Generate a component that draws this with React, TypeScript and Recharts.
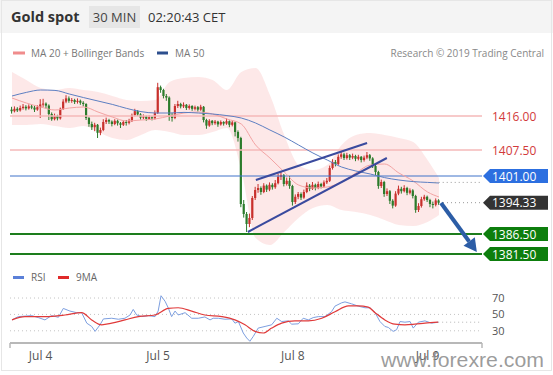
import React from 'react';
import { ComposedChart, Bar, Line, Area, XAxis, YAxis, ReferenceLine } from 'recharts';

// 30 min candles, index 0..149
const closes = [
  1417.2, 1417.8, 1417.4, 1418.0, 1418.3, 1417.9, 1418.4, 1418.1, 1417.6, 1418.2,
  1418.9, 1419.1, 1418.6, 1416.5, 1415.2, 1416.0, 1415.4, 1417.8, 1419.6, 1420.4,
  1419.8, 1420.0, 1419.5, 1419.8, 1419.3, 1419.0, 1415.5, 1414.0, 1413.2, 1413.8,
  1411.8, 1412.5, 1414.5, 1415.0, 1414.6, 1414.0, 1414.8, 1414.2, 1413.8, 1414.5,
  1414.3, 1414.8, 1416.2, 1417.2, 1416.4, 1415.6, 1415.9, 1415.3, 1415.7, 1415.4,
  1416.8, 1423.2, 1422.5, 1421.0, 1420.6, 1416.0, 1415.5, 1418.5, 1419.0, 1418.4,
  1418.8, 1418.0, 1418.5, 1417.8, 1418.2, 1417.6, 1418.3, 1415.0, 1413.6, 1414.8,
  1414.2, 1414.6, 1413.9, 1414.5, 1414.1, 1414.7, 1413.8, 1414.4, 1412.0, 1410.5,
  1394.0, 1391.5, 1389.0, 1390.5, 1395.5, 1397.5, 1398.0, 1397.0, 1398.6, 1397.6,
  1398.8, 1398.2, 1399.2, 1400.8, 1401.2, 1399.0, 1399.8, 1398.5, 1394.5, 1395.8,
  1396.5, 1395.6, 1397.0, 1398.6, 1397.8, 1398.8, 1398.0, 1399.0, 1398.4, 1399.4,
  1399.8, 1403.0, 1404.5, 1404.0, 1405.8, 1406.4, 1405.5, 1406.2, 1405.6, 1406.0,
  1405.3, 1405.8, 1405.0, 1405.6, 1406.2, 1405.4, 1403.5, 1402.0, 1398.5, 1399.5,
  1396.5, 1397.2, 1394.8, 1393.6, 1396.6, 1397.8, 1397.2, 1398.0, 1396.8, 1397.4,
  1396.0, 1392.5, 1393.5, 1395.2, 1395.8, 1395.0, 1394.0, 1393.8, 1394.9, 1394.33,
];
const highs = [
  1418.3, 1418.4, 1418.2, 1418.6, 1419.0, 1418.7, 1418.9, 1418.8, 1418.5, 1418.7,
  1420.2, 1420.3, 1419.4, 1418.9, 1416.9, 1416.6, 1416.3, 1418.1, 1420.2, 1421.2,
  1420.9, 1420.5, 1420.3, 1420.4, 1420.1, 1419.7, 1419.2, 1415.8, 1414.6, 1414.3,
  1414.0, 1413.1, 1415.2, 1415.6, 1415.3, 1414.9, 1415.2, 1415.1, 1414.5, 1414.9,
  1415.0, 1415.3, 1416.6, 1417.8, 1417.5, 1416.7, 1416.4, 1416.1, 1416.2, 1416.0,
  1417.4, 1424.3, 1423.6, 1422.8, 1421.5, 1420.9, 1416.8, 1419.0, 1419.8, 1419.3,
  1419.4, 1419.0, 1418.9, 1418.7, 1418.6, 1418.5, 1418.8, 1418.5, 1415.3, 1415.2,
  1415.0, 1415.0, 1414.8, 1414.9, 1414.7, 1415.4, 1414.9, 1414.8, 1414.6, 1412.4,
  1410.8, 1395.0, 1392.0, 1391.6, 1396.0, 1398.3, 1399.0, 1398.4, 1399.2, 1398.9,
  1399.4, 1399.2, 1400.0, 1401.6, 1402.2, 1401.5, 1400.6, 1401.0, 1398.8, 1396.4,
  1397.0, 1396.9, 1397.6, 1399.4, 1399.0, 1399.5, 1399.1, 1399.6, 1399.3, 1399.9,
  1400.5, 1403.6, 1405.2, 1405.0, 1406.4, 1407.2, 1406.8, 1406.8, 1406.5, 1406.6,
  1406.3, 1406.3, 1406.0, 1406.1, 1407.0, 1406.5, 1405.7, 1403.9, 1402.3, 1400.1,
  1399.8, 1397.9, 1397.5, 1395.2, 1397.2, 1398.6, 1398.3, 1398.7, 1398.3, 1397.9,
  1397.7, 1396.3, 1394.2, 1395.8, 1396.3, 1396.1, 1395.3, 1394.6, 1395.4, 1395.2,
];
const lows = [
  1416.6, 1416.9, 1417.0, 1417.1, 1417.6, 1417.4, 1417.6, 1417.7, 1417.0, 1417.3,
  1415.5, 1418.3, 1417.9, 1415.0, 1414.8, 1414.9, 1414.9, 1415.1, 1417.5, 1419.2,
  1419.3, 1419.3, 1419.0, 1419.1, 1418.8, 1418.4, 1415.0, 1413.3, 1412.5, 1412.2,
  1410.5, 1411.2, 1412.2, 1414.0, 1414.0, 1413.4, 1413.7, 1413.6, 1413.0, 1413.5,
  1413.6, 1413.9, 1414.5, 1415.9, 1416.0, 1415.1, 1415.2, 1414.8, 1415.0, 1414.9,
  1415.1, 1416.5, 1421.8, 1420.4, 1419.8, 1414.8, 1414.6, 1415.2, 1418.0, 1417.9,
  1418.0, 1417.5, 1417.6, 1417.3, 1417.4, 1417.1, 1417.3, 1414.4, 1412.8, 1413.3,
  1413.7, 1413.8, 1413.3, 1413.6, 1413.6, 1413.8, 1413.2, 1413.4, 1410.9, 1409.6,
  1393.2, 1390.6, 1387.0, 1388.2, 1390.0, 1395.0, 1396.8, 1396.3, 1396.7, 1397.0,
  1397.2, 1397.6, 1397.8, 1398.9, 1400.0, 1398.4, 1398.6, 1397.8, 1393.6, 1394.0,
  1395.2, 1395.0, 1395.3, 1396.7, 1397.2, 1397.5, 1397.4, 1397.7, 1397.9, 1398.1,
  1399.0, 1399.5, 1402.6, 1403.4, 1403.7, 1405.3, 1405.0, 1405.1, 1405.0, 1405.2,
  1404.7, 1404.9, 1404.4, 1404.6, 1405.2, 1404.8, 1403.0, 1401.2, 1397.8, 1398.0,
  1395.8, 1396.0, 1394.0, 1392.9, 1393.3, 1396.2, 1396.6, 1396.9, 1396.2, 1396.4,
  1395.4, 1391.8, 1392.0, 1393.1, 1394.8, 1394.5, 1393.2, 1392.9, 1393.4, 1393.8,
];
const firstOpen = 1417.6;

// indicator readings, every 5th candle
const bandIdx = [0, 5, 10, 15, 20, 25, 30, 35, 40, 45, 50, 55, 60, 65, 70, 75, 80, 85, 90, 95, 100, 105, 110, 115, 120, 125, 130, 135, 140, 145, 149];
const ma20 = [1420.5, 1419.25, 1418.25, 1417.5, 1418.0, 1418.25, 1417.0, 1415.75, 1414.75, 1415.0, 1415.25, 1416.0, 1416.75, 1417.0, 1416.5, 1415.25, 1414.0, 1408.75, 1405.5, 1402.0, 1398.75, 1398.0, 1398.25, 1399.5, 1401.75, 1403.75, 1404.0, 1401.75, 1399.75, 1397.0, 1395.75];
const bbUpper = [1427.0, 1425.0, 1423.0, 1422.5, 1423.0, 1422.5, 1422.0, 1421.0, 1420.0, 1419.75, 1420.0, 1424.5, 1425.5, 1425.75, 1425.0, 1422.5, 1427.0, 1428.0, 1421.25, 1411.25, 1403.75, 1402.5, 1403.75, 1408.75, 1411.25, 1411.75, 1411.25, 1410.5, 1409.5, 1405.0, 1400.5];
const bbLower = [1413.75, 1413.75, 1414.0, 1413.5, 1413.0, 1413.5, 1412.0, 1410.5, 1410.0, 1411.25, 1412.5, 1412.0, 1411.25, 1411.25, 1412.0, 1413.0, 1402.5, 1385.5, 1383.75, 1387.0, 1390.5, 1393.0, 1393.75, 1392.5, 1392.0, 1391.25, 1390.0, 1388.75, 1388.5, 1389.5, 1391.25];
const ma50 = [1421.0, 1421.9, 1422.5, 1422.4, 1421.5, 1420.6, 1419.75, 1418.9, 1417.9, 1417.1, 1416.75, 1416.75, 1416.9, 1416.75, 1416.5, 1416.1, 1415.5, 1414.25, 1412.5, 1410.75, 1408.75, 1406.75, 1405.0, 1403.25, 1402.25, 1401.5, 1400.6, 1400.0, 1399.6, 1399.4, 1399.25];

// RSI panel
const rsiIdx = [0, 2.2, 6.9, 9.2, 11.5, 13.8, 16.2, 17.9, 20.2, 22.6, 24.3, 26.1, 27.8, 29, 30.7, 31.9, 34.8, 37.1, 39.4, 41.2, 42.3, 43.5, 45.3, 47.6, 49.9, 51, 52, 53.4, 54.5, 55.7, 56.9, 58, 60.4, 62.7, 65, 67.3, 69.1, 70.2, 72, 74.3, 76.7, 77.8, 79, 80.7, 81.9, 83, 84.2, 85.9, 88.3, 90.6, 92.4, 94.1, 96.4, 97.6, 99.9, 101.6, 103.4, 105.1, 106.9, 109.2, 111.5, 112.7, 115, 116.2, 118.5, 120.8, 123.2, 124.9, 126.7, 128.4, 130.1, 131.3, 133, 134.2, 135.4, 137.1, 138.9, 140, 141.8, 144.1, 146.4, 148.7];
const rsiVal = [43.3, 47.3, 48.5, 46.1, 43.3, 48.5, 46.5, 57.3, 54.1, 52.1, 52.1, 39.3, 35.3, 29.3, 37.3, 44.5, 45.3, 44.1, 45.3, 49.3, 56.1, 49.3, 47.3, 48.5, 47.3, 54.1, 72.8, 66.1, 58.1, 47.3, 54.1, 49.3, 52.1, 45.3, 45.3, 46.9, 43.3, 45.3, 45.3, 44.1, 44.5, 39.3, 41.3, 27.3, 21.2, 17.2, 23.2, 33.3, 35.3, 37.3, 45.3, 41.3, 42.1, 38.1, 38.5, 45.3, 43.3, 46.1, 47.3, 47.3, 53.3, 60.1, 64.1, 65.3, 62.9, 60.1, 58.1, 58.1, 52.1, 41.3, 35.3, 34.1, 29.3, 31.3, 41.3, 40.5, 41.3, 33.3, 40.5, 42.1, 39.3, 40.5];
const ma9Idx = [0, 4.5, 11.5, 18.5, 24.3, 27.8, 31.3, 34.8, 39.4, 44.1, 49.9, 54.5, 58, 62.7, 67.3, 73.2, 77.8, 81.3, 84.8, 87.7, 90.6, 94.1, 98.7, 103.4, 108.1, 112.7, 117.4, 120.8, 124.3, 126.7, 130.1, 133.6, 137.1, 140.6, 144.1, 148.7];
const ma9Val = [43.3, 47.3, 47.3, 49.3, 52.1, 43.3, 37.3, 39.3, 43.3, 47.3, 49.3, 57.3, 58.1, 54.1, 49.3, 47.3, 43.3, 37.3, 29.3, 27.3, 33.3, 39.3, 42.1, 42.1, 45.3, 53.3, 60.5, 60.5, 58.9, 52.1, 43.3, 38.1, 37.3, 38.1, 39.3, 40.5];
const rsiLevels = [70, 50, 30];

const tickIdx = [10, 51, 98, 145];
const tickLabels = ['Jul 4', 'Jul 5', 'Jul 8', 'Jul 9'];

const lastPrice = 1394.33;
const lastMa50 = 1399.4;
const lastRsi = 40.5;

// channel + arrow, as [index, price]
const channelLow = [[82.3, 1387.0], [130.8, 1405.5]];
const channelHigh = [[85.1, 1400.0], [123.9, 1409.25]];
const arrow = [[149.7, 1394.25], [162.2, 1382.0]];

const X_DOMAIN = [-0.7, 164];
const UP = '#c8302c';
const DOWN = '#2b7b2b';

const priceRows = closes.map((c, i) => {
  const k = bandIdx.indexOf(i);
  return {
    i,
    open: i === 0 ? firstOpen : closes[i - 1],
    close: c,
    high: highs[i],
    low: lows[i],
    range: [lows[i], highs[i]],
    band: k >= 0 ? [bbLower[k], bbUpper[k]] : undefined,
    ma20: k >= 0 ? ma20[k] : undefined,
    ma50: k >= 0 ? ma50[k] : undefined,
  };
});

const rsiRows = [
  ...rsiIdx.map((i, k) => ({ i, rsi: rsiVal[k] as number | undefined, ma9: undefined as number | undefined })),
  ...ma9Idx.map((i, k) => ({ i, rsi: undefined as number | undefined, ma9: ma9Val[k] as number | undefined })),
].sort((a, b) => a.i - b.i);

const Candle = (props: any) => {
  const { x, y, width, height, payload } = props;
  if (!payload || height == null || isNaN(y)) return null;
  const top = Math.min(y, y + height);
  const h = Math.abs(height);
  const span = payload.high - payload.low || 1;
  const py = (p: number) => top + ((payload.high - p) / span) * h;
  const up = payload.close >= payload.open;
  const color = up ? UP : DOWN;
  const cx = x + width / 2;
  const yo = py(payload.open);
  const yc = py(payload.close);
  return (
    <g>
      <line x1={cx} x2={cx} y1={top} y2={top + h} stroke={color} strokeWidth={1} />
      <rect x={cx - 1.1} y={Math.min(yo, yc)} width={2.2} height={Math.max(1, Math.abs(yc - yo))} fill={color} />
    </g>
  );
};

const plainTag = (line: string, text: string, label: string) => (p: any) => (
  <g>
    <line x1={p.x1} y1={p.y1} x2={p.x2} y2={p.y2} stroke={line} strokeWidth={1.5} />
    <text x={p.x2 + 10} y={p.y2 + 4.5} fill={text} fontSize={12}>{label}</text>
  </g>
);

const boxTag = (line: string, box: string, label: string, width: number, dash?: string) => (p: any) => (
  <g>
    <line x1={p.x1} y1={p.y1} x2={p.x2} y2={p.y2} stroke={line} strokeWidth={width} strokeDasharray={dash} />
    <path d={`M${p.x2 + 1},${p.y2} L${p.x2 + 8},${p.y2 - 7} H${p.x2 + 66} V${p.y2 + 7} H${p.x2 + 8} Z`} fill={box} />
    <text x={p.x2 + 10} y={p.y2 + 4.5} fill="#fff" fontSize={12}>{label}</text>
  </g>
);

const ArrowShape = (p: any) => {
  const dx = p.x2 - p.x1;
  const dy = p.y2 - p.y1;
  const len = Math.sqrt(dx * dx + dy * dy);
  const ux = dx / len;
  const uy = dy / len;
  const hl = 13;
  const hw = 7;
  const bx = p.x2 - ux * hl;
  const by = p.y2 - uy * hl;
  return (
    <g>
      <line x1={p.x1} y1={p.y1} x2={bx} y2={by} stroke="#2c5da6" strokeWidth={4} />
      <polygon points={`${p.x2},${p.y2} ${bx - uy * hw},${by + ux * hw} ${bx + uy * hw},${by - ux * hw}`} fill="#2c5da6" />
    </g>
  );
};

const rsiLevelShape = (label: string) => (p: any) => (
  <g>
    <line x1={p.x1} y1={p.y1} x2={p.x2} y2={p.y2} stroke="#c4c4c4" strokeWidth={1} strokeDasharray="1 3" />
    <text x={p.x2 + 10} y={p.y2 + 4} fill="#555" fontSize={11}>{label}</text>
  </g>
);

const DateTick = (props: any) => {
  const { x, y, payload } = props;
  const k = tickIdx.indexOf(payload.value);
  if (k < 0) {
    return <line x1={x} x2={x} y1={y} y2={y + 5} stroke="#b8b8b8" strokeWidth={1.5} />;
  }
  return (
    <text x={x} y={y + 17} textAnchor="middle" fontSize={12} fill="#555">{tickLabels[k]}</text>
  );
};

export default function App() {
  return (
    <div style={{ position: 'absolute', left: 0, top: 0, width: 553, height: 375, background: '#fff', fontFamily: "'Open Sans', sans-serif", overflow: 'hidden' }}>
      <svg width={553} height={375} style={{ position: 'absolute', left: 0, top: 0 }}>
        <rect x={0} y={0} width={553} height={33} fill="#f4f4f4" />
        <rect x={1.5} y={0.5} width={550} height={370} fill="none" stroke="#e6e6e6" />
        <text x={11} y={22} fontSize={14.5} fontWeight={700} fill="#333">Gold spot</text>
        <rect x={89} y={6} width={51} height={22} fill="#e6e6e6" />
        <text x={114.5} y={21.5} fontSize={13} fill="#444" textAnchor="middle">30 MIN</text>
        <text x={148} y={21.5} fontSize={13} fill="#333">02:20:43 CET</text>
        <rect x={13} y={51.5} width={12} height={3} fill="#f08c8c" />
        <text x={31} y={57} fontSize={10} fill="#777">MA 20 + Bollinger Bands</text>
        <rect x={157} y={51.5} width={11} height={3} fill="#2d4f8e" />
        <text x={175} y={57} fontSize={10} fill="#777">MA 50</text>
        <text x={544} y={57} fontSize={10} fill="#888" textAnchor="end">Research © 2019 Trading Central</text>
        <rect x={13} y={276} width={11} height={3} fill="#5b80d8" />
        <text x={31} y={281} fontSize={10} fill="#666">RSI</text>
        <rect x={58} y={276} width={11} height={3} fill="#e02a2a" />
        <text x={76} y={281} fontSize={10} fill="#666">9MA</text>
      </svg>

      <div style={{ position: 'absolute', left: 0, top: 0 }}>
        <ComposedChart width={553} height={275} data={priceRows} margin={{ top: 66, right: 71, bottom: 13, left: 10 }}>
          <XAxis type="number" dataKey="i" domain={X_DOMAIN} hide allowDataOverflow />
          <YAxis type="number" domain={[1379.5, 1428.5]} hide allowDataOverflow />
          <Area dataKey="band" type="monotone" connectNulls fill="#fde6e6" fillOpacity={0.9} stroke="none" isAnimationActive={false} />
          <ReferenceLine y={1416} shape={plainTag('#f5b8b8', '#d23a3a', '1416.00')} />
          <ReferenceLine y={1407.5} shape={plainTag('#f5b8b8', '#d23a3a', '1407.50')} />
          <ReferenceLine y={1401} shape={boxTag('#3f72c9', '#2c6fe0', '1401.00', 1)} />
          <ReferenceLine y={1386.5} shape={boxTag('#1d7d1d', '#0d7e0d', '1386.50', 2)} />
          <ReferenceLine y={1381.5} shape={boxTag('#1d7d1d', '#0d7e0d', '1381.50', 2)} />
          <Line dataKey="ma20" type="monotone" connectNulls stroke="#f3a3a3" strokeWidth={1} dot={false} isAnimationActive={false} />
          <Line dataKey="ma50" type="monotone" connectNulls stroke="#5d7fc2" strokeWidth={1} dot={false} isAnimationActive={false} />
          <ReferenceLine segment={[{ x: 147.5, y: lastMa50 }, { x: X_DOMAIN[1], y: lastMa50 }]} stroke="#999" strokeDasharray="1 3" />
          <ReferenceLine segment={[{ x: 149, y: lastPrice }, { x: X_DOMAIN[1], y: lastPrice }]} shape={boxTag('#999', '#333', lastPrice.toFixed(2), 1, '1 3')} />
          <Bar dataKey="range" barSize={2} shape={Candle} isAnimationActive={false} />
          <ReferenceLine segment={channelLow.map(([x, y]) => ({ x, y }))} stroke="#3a4a9e" strokeWidth={2} />
          <ReferenceLine segment={channelHigh.map(([x, y]) => ({ x, y }))} stroke="#3a4a9e" strokeWidth={2} />
          <ReferenceLine segment={arrow.map(([x, y]) => ({ x, y }))} shape={ArrowShape} />
        </ComposedChart>
      </div>

      <div style={{ position: 'absolute', left: 0, top: 270 }}>
        <ComposedChart width={553} height={105} data={rsiRows} margin={{ top: 15, right: 71, bottom: 2, left: 10 }}>
          <XAxis
            type="number"
            dataKey="i"
            domain={X_DOMAIN}
            allowDataOverflow
            ticks={[X_DOMAIN[0], ...tickIdx, X_DOMAIN[1]]}
            interval={0}
            tickSize={0}
            tickMargin={0}
            tickLine={false}
            axisLine={{ stroke: '#b8b8b8', strokeWidth: 2 }}
            tick={<DateTick />}
            height={30}
          />
          <YAxis type="number" domain={[15.1, 85.9]} hide allowDataOverflow />
          {rsiLevels.map((v) => (
            <ReferenceLine key={v} y={v} shape={rsiLevelShape(String(v))} />
          ))}
          <ReferenceLine segment={[{ x: 148.7, y: lastRsi }, { x: X_DOMAIN[1], y: lastRsi }]} stroke="#b5b5b5" strokeDasharray="1 3" />
          <Line dataKey="rsi" type="linear" connectNulls stroke="#7d9fe0" strokeWidth={1} dot={false} isAnimationActive={false} />
          <Line dataKey="ma9" type="monotone" connectNulls stroke="#e03a3a" strokeWidth={1.2} dot={false} isAnimationActive={false} />
        </ComposedChart>
      </div>

      <svg width={553} height={375} style={{ position: 'absolute', left: 0, top: 0, pointerEvents: 'none' }}>
        <text x={381} y={367} fontSize={21} fill="#8a8a8a" fillOpacity={0.85} textLength={163} lengthAdjust="spacingAndGlyphs" style={{ fontFamily: "'Liberation Sans', Arial, sans-serif" }}>www.forexre.com</text>
      </svg>
    </div>
  );
}
